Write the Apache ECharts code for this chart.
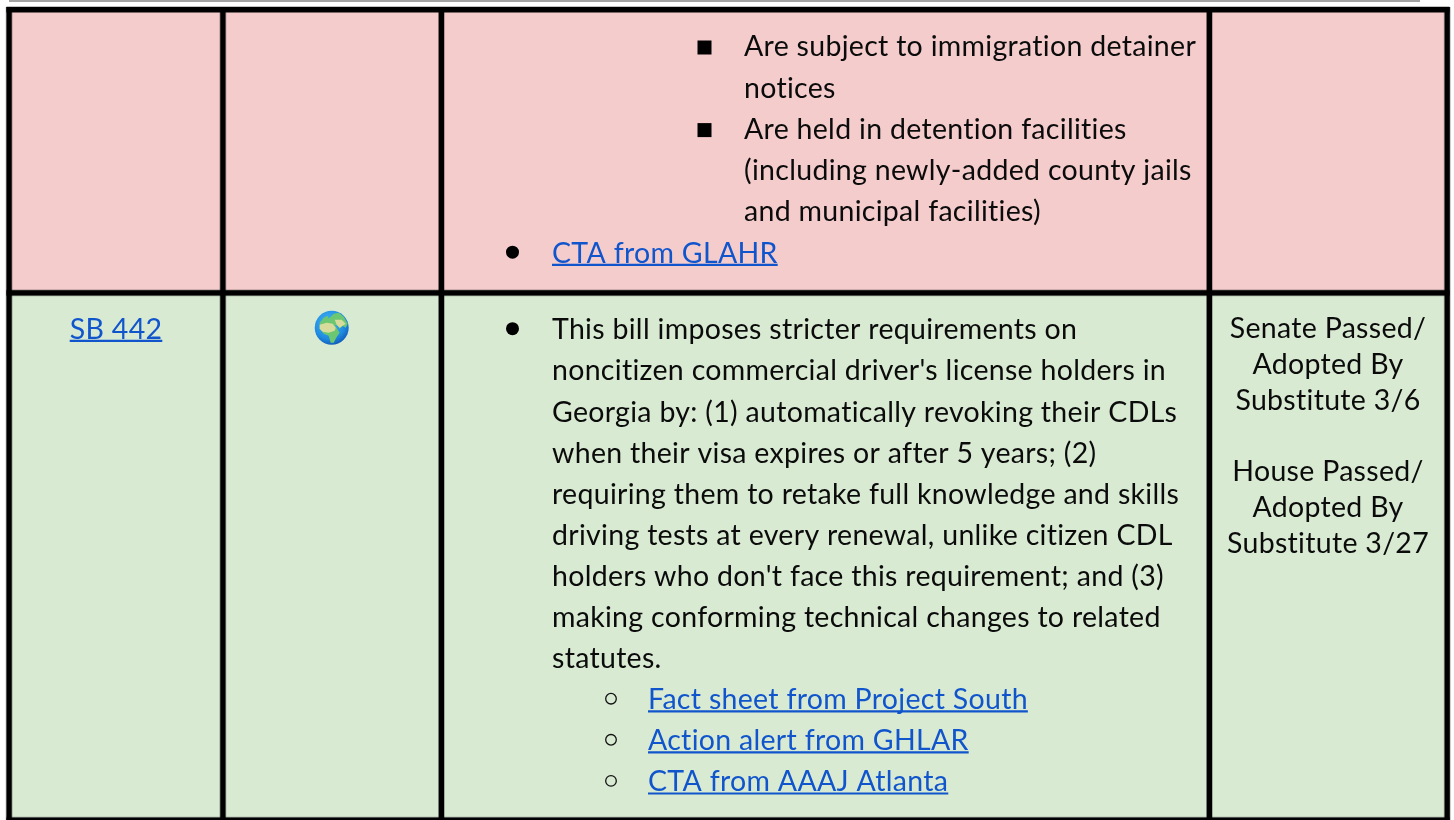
<!DOCTYPE html>
<html>
<head>
<meta charset="utf-8">
<style>html,body{margin:0;padding:0;background:#fff}#c{width:1454px;height:820px}</style>
<script src="https://cdn.jsdelivr.net/npm/echarts@6/dist/echarts.min.js"></script>
</head>
<body>
<div id="c"></div>
<script>
// ---- content ----
const pinkRowLines = [
  ['sub', 'Are subject to immigration detainer', 0],
  ['', 'notices', 0],
  ['sub', 'Are held in detention facilities', 0],
  ['', '(including newly-added county jails', 0],
  ['', 'and municipal facilities)', 0],
  ['top', 'CTA from GLAHR', 1]
];
const greenRowLines = [
  ['top', 'This bill imposes stricter requirements on', 0],
  ['top+', "noncitizen commercial driver's license holders in", 0],
  ['top+', 'Georgia by: (1) automatically revoking their CDLs', 0],
  ['top+', 'when their visa expires or after 5 years; (2)', 0],
  ['top+', 'requiring them to retake full knowledge and skills', 0],
  ['top+', 'driving tests at every renewal, unlike citizen CDL', 0],
  ['top+', "holders who don't face this requirement; and (3)", 0],
  ['top+', 'making conforming technical changes to related', 0],
  ['top+', 'statutes.', 0],
  ['mid', 'Fact sheet from Project South', 1],
  ['mid', 'Action alert from GHLAR', 1],
  ['mid', 'CTA from AAAJ Atlanta', 1]
];
const billName = 'SB 442';
const statusLines = ['Senate Passed/', 'Adopted By', 'Substitute 3/6', '', 'House Passed/', 'Adopted By', 'Substitute 3/27'];

// ---- layout and style ----
const FONT = 'Lato';
const FONT_SIZE = 28.5;
const TRACKING = 0.3;
const TEXT_ASCENT = 22.4;
const COL_EDGES = [6.5, 220.3, 438.8, 1206.8, 1444.6];
const ROW_EDGES = [7, 290.3, 817.5];
const BORDER = 5.2;
const ROW_FILL = ['#f4cccc', '#d9ead3'];
const LINK = '#1155cc', INK = '#0b0b0b';
const INDENT = {top: [512.5, 552], 'top+': [null, 552], mid: [611, 648], sub: [704.5, 744], '': [null, 744]};

// widen the tracking of all canvas text (also turns off Lato's ti ligatures)
const nativeFillText = CanvasRenderingContext2D.prototype.fillText;
CanvasRenderingContext2D.prototype.fillText = function () {
  this.letterSpacing = TRACKING + 'px';
  return nativeFillText.apply(this, arguments);
};

const marks = [];
const rect = (x, y, w, h, fill) => marks.push({kind: 'rect', x, y, w, h, fill});
const text = (x, y, str, align, link) => marks.push({kind: 'text', x, y, str, align, link});

// page rule above the table
rect(9, 0, 1411, 2, '#a3a3a3');
// cell fills
ROW_EDGES.slice(0, 2).forEach((top, r) => rect(COL_EDGES[0], top, COL_EDGES[4] - COL_EDGES[0], ROW_EDGES[r + 1] - top, ROW_FILL[r]));
// hairlines at the inner cell edges
COL_EDGES.forEach(x => { rect(x - 0.8, 7, BORDER + 1.6, 813, 'rgba(0,0,0,0.32)'); });
ROW_EDGES.forEach(y => { rect(6.5, y - 0.8, 1443, BORDER + 1.6, 'rgba(0,0,0,0.32)'); });
// heavy borders
COL_EDGES.forEach(x => rect(x, 7, BORDER, 813, '#000'));
ROW_EDGES.forEach(y => rect(6.5, y, 1443, BORDER, '#000'));

function addLines(lines, first, step) {
  lines.forEach((l, i) => {
    const y = first + step * i;
    const ind = INDENT[l[0]];
    text(ind[1], y, l[1], 'left', l[2] === 1);
    if (ind[0] !== null) marks.push({kind: 'bullet', x: ind[0], y: y - (l[0] === 'sub' ? 7.5 : 9.3), type: l[0]});
  });
}
addLines(pinkRowLines, 55, 41.3);
addLines(greenRowLines, 338, 41.11);
text(116, 337.5, billName, 'center', true);
statusLines.forEach((s, i) => { if (s) text(1328, 337 + 35.8 * i, s, 'center', false); });
marks.push({kind: 'globe', x: 331.7, y: 327.7});

const measureCtx = document.createElement('canvas').getContext('2d');
measureCtx.font = FONT_SIZE + 'px ' + FONT;
measureCtx.letterSpacing = TRACKING + 'px';

const LAND = [[-12,-5],[-8,-10],[-4,-12],[-3,-9],[2,-14],[7,-15],[12,-11],[16,-4],[14,0],[11,-2],[8,1],[6,-2],[3,-3],[8,5],[5,9],[2,15],[-1,15],[-3,8],[-8,6],[-12,1]];
const SAND = [[-12,-3],[-5,-5],[1,-4],[4,0],[3,3],[-3,5],[-9,4],[-12,1]];
const SAND2 = [[3,-8],[10,-8],[14,-4],[11,-2],[8,0],[5,-3]];

function renderItem(params, api) {
  const m = marks[params.dataIndex];
  const p = api.coord([m.x, m.y]);
  if (m.kind === 'rect') {
    const q = api.coord([m.x + m.w, m.y + m.h]);
    return {type: 'rect', shape: {x: p[0], y: p[1], width: q[0] - p[0], height: q[1] - p[1]}, style: {fill: m.fill}, silent: true};
  }
  if (m.kind === 'text') {
    const color = m.link ? LINK : INK;
    const children = [{type: 'text', x: p[0], y: p[1] - TEXT_ASCENT, style: {text: m.str, fill: color, font: FONT_SIZE + 'px ' + FONT, textAlign: m.align}}];
    if (m.link) {
      const w = measureCtx.measureText(m.str).width;
      const x0 = m.align === 'center' ? p[0] - w / 2 : p[0];
      children.push({type: 'rect', shape: {x: x0, y: p[1] + 2.2, width: w, height: 2.2}, style: {fill: LINK}});
    }
    return {type: 'group', children};
  }
  if (m.kind === 'bullet') {
    if (m.type === 'sub') return {type: 'rect', shape: {x: p[0] - 7, y: p[1] - 7, width: 14, height: 14}, style: {fill: '#000'}};
    if (m.type === 'top') return {type: 'circle', shape: {cx: p[0], cy: p[1], r: 6.5}, style: {fill: '#000'}};
    return {type: 'circle', shape: {cx: p[0], cy: p[1], r: 5.3}, style: {fill: 'none', stroke: '#111', lineWidth: 1.3}};
  }
  // the globe icon of the second column
  return {type: 'group', x: p[0], y: p[1], children: [
    {type: 'circle', shape: {cx: 0, cy: 0, r: 17}, style: {fill: new echarts.graphic.RadialGradient(0.42, 0.35, 0.68, [{offset: 0, color: '#45b6f5'}, {offset: 0.7, color: '#1f8be0'}, {offset: 1, color: '#1259b8'}])}},
    {type: 'polygon', shape: {points: LAND}, style: {fill: '#6cc772'}},
    {type: 'polygon', shape: {points: SAND}, style: {fill: '#d7dc9c'}},
    {type: 'polygon', shape: {points: SAND2}, style: {fill: '#d7dc9c'}}
  ]};
}

const chart = echarts.init(document.getElementById('c'), null, {renderer: 'canvas'});
chart.setOption({
  animation: false,
  backgroundColor: '#fff',
  grid: {left: 0, right: 0, top: 0, bottom: 0},
  xAxis: {type: 'value', min: 0, max: 1454, show: false},
  yAxis: {type: 'value', min: 0, max: 820, inverse: true, show: false},
  tooltip: {show: false},
  series: [{
    type: 'custom',
    coordinateSystem: 'cartesian2d',
    clip: false,
    silent: true,
    renderItem,
    data: marks.map(m => [m.x, m.y])
  }]
});
</script>
</body>
</html>
